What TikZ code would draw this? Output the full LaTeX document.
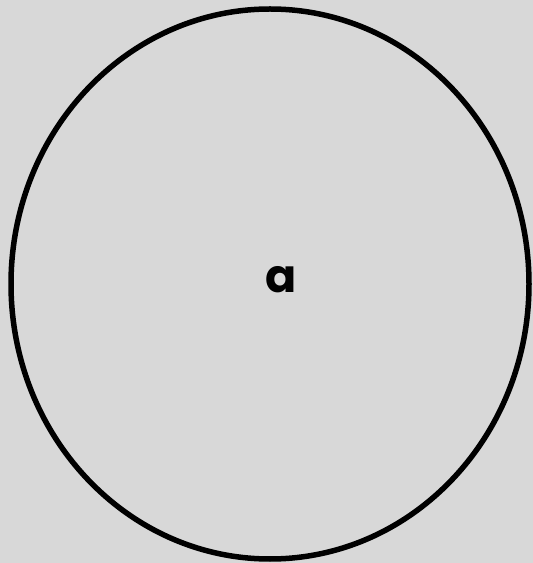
\documentclass[tikz,border=0pt]{standalone}
\usepackage{fontspec}
\newfontfamily\roundfont{Poppins Bold}
\usetikzlibrary{shapes.geometric}
\definecolor{paper}{RGB}{216,216,216}

\begin{document}
\begin{tikzpicture}[x=1pt, y=1pt]
    \fill[paper] (0,0) rectangle (533,563);
    \useasboundingbox (0,0) rectangle (533,563);
    \node[draw, ellipse, line width=5.5pt, inner sep=0pt, minimum width=518pt, minimum height=550pt] (cell) at (270,279) {};
    \node[inner sep=0pt, font=\roundfont\fontsize{46}{46}\selectfont] (lbl) at (281,283) {a};
  \end{tikzpicture}
\end{document}
